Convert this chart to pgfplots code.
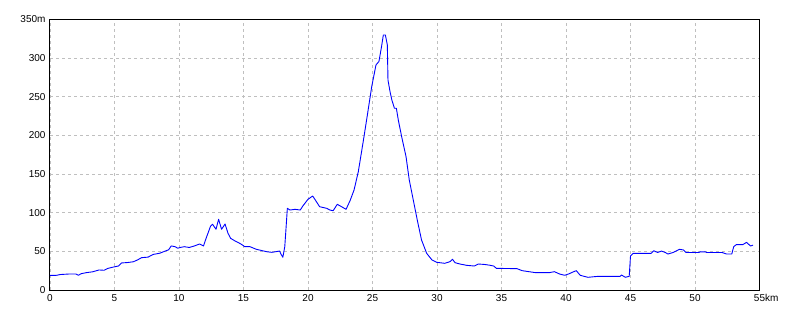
\documentclass[border=0pt]{standalone}
\usepackage{fontspec}
\setmainfont{Liberation Sans}
\usepackage{pgfplots}
\pgfplotsset{compat=1.18}
\begin{document}
\begin{tikzpicture}
\useasboundingbox[fill=white] (0,0) rectangle (800bp,320bp);
\begin{axis}[
  at={(50bp,30bp)}, anchor=south west,
  scale only axis, width=709.5bp, height=270.7bp,
  xmin=0, xmax=55, ymin=0, ymax=350,
  xtick={0,5,...,55}, ytick={0,50,...,350},
  xticklabels={0,5,10,15,20,25,30,35,40,45,50,55\rlap{km}},
  yticklabels={0,50,100,150,200,250,300,350m},
  /pgf/number format/assume math mode=true,
  tick label style={font=\fontsize{10bp}{12bp}\selectfont, text=black},
  major tick length=0pt,
  xticklabel style={yshift=-1bp},
  yticklabel style={xshift=-1bp},
  grid=major,
  major grid style={draw=black!25, dash pattern=on 3bp off 3bp, line width=0.8bp},
  axis line style={line width=1bp, black},
  clip=true,
]
\addplot[blue, line width=0.9bp, line join=round] coordinates {
(0,19)(0.5,19)(0.8,20)(1.5,20.7)(2.0,20.7)(2.2,19)(2.4,21)(2.8,22.4)(3.3,23.5)(3.8,25.9)(4.2,25.5)(4.5,28)(5.0,30)(5.3,31)(5.55,35)(6.0,35.5)(6.46,36.5)(6.8,39)(7.1,41.8)(7.6,42.5)(8.0,46)(8.5,47.5)(9.0,50.8)(9.2,52)(9.4,57)(9.7,56)(9.9,54)(10.1,55)(10.4,56)(10.8,55)(11.2,57)(11.6,59.5)(11.9,57)(12.1,66.8)(12.45,82.7)(12.6,85)(12.87,78.5)(13.07,91.4)(13.3,78.5)(13.57,85.3)(13.8,73.3)(14.0,66.8)(14.3,63.8)(14.8,59.5)(15.1,56)(15.5,56)(16.0,52.6)(16.8,49.5)(17.2,48.7)(17.8,50.4)(17.9,46.5)(18.05,42.3)(18.2,56)(18.4,105.6)(18.6,103.4)(19.0,104.3)(19.4,103.4)(19.6,108.6)(20.0,117.3)(20.36,121.5)(20.6,115.5)(20.9,107.7)(21.45,105.6)(21.7,103.4)(21.95,102.5)(22.27,110.8)(22.6,107.7)(22.95,104.3)(23.26,115.5)(23.57,129.3)(23.9,153)(24.3,194)(24.6,226)(24.94,263)(25.27,291)(25.5,295.5)(25.7,314.6)(25.84,329.7)(26.0,329.7)(26.15,316.8)(26.2,271.5)(26.36,256.4)(26.5,245.7)(26.7,235)(26.85,235)(27.0,219.8)(27.26,198.2)(27.6,172.4)(27.85,142.2)(28.16,116.4)(28.47,90.5)(28.8,64.7)(29.2,47.4)(29.6,39)(29.97,35.8)(30.6,34.5)(31.0,36.6)(31.2,39.7)(31.4,35.3)(31.78,33.6)(32.3,31.9)(32.9,31)(33.2,33.6)(33.7,33)(34.1,32)(34.4,31)(34.6,28)(36.2,27.6)(36.6,25)(37.65,22.4)(38.7,22.4)(39.1,23.7)(39.5,20.7)(39.9,19)(40.2,20.7)(40.6,23.7)(40.8,25)(41.1,19)(41.7,16.4)(42.5,17.7)(44.2,17.7)(44.3,19.4)(44.6,16.4)(44.9,17.7)(45.0,44)(45.2,47.4)(46.6,47.4)(46.8,50.8)(47.1,48.5)(47.4,50.3)(47.7,48.5)(47.9,46.5)(48.3,48.5)(48.8,52.6)(49.1,51.8)(49.3,48.5)(50.3,48.5)(50.4,49.3)(50.8,49.3)(50.9,48.5)(52.1,48.5)(52.45,46.5)(52.85,46.5)(53.0,56)(53.2,58.6)(53.7,58.6)(54.0,61.6)(54.3,56.9)(54.5,58)
};
\end{axis}
\end{tikzpicture}
\end{document}
